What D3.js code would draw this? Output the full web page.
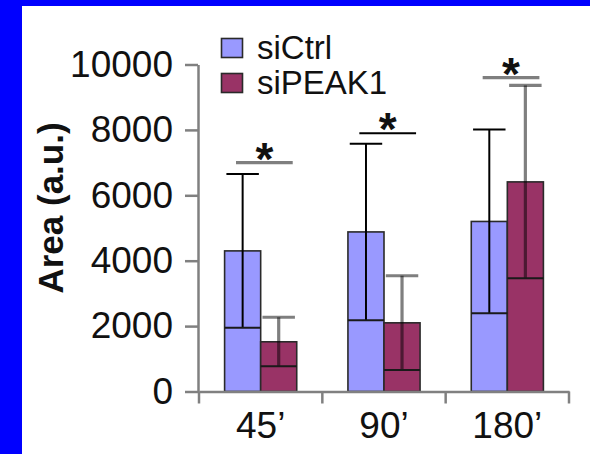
<!DOCTYPE html>
<html>
<head>
<meta charset="utf-8">
<script src="https://cdn.jsdelivr.net/npm/d3@7/dist/d3.min.js"></script>
<style>
  html, body { margin: 0; padding: 0; background: #0000ff; }
  svg { display: block; }
  text { font-family: "Liberation Sans", Arial, Helvetica, sans-serif; fill: #111; }
</style>
</head>
<body>
<svg id="chart" width="590" height="454"></svg>
<script>
// ---- data ----
const categories = ["45\u2019", "90\u2019", "180\u2019"];
const series = ["siCtrl", "siPEAK1"];
const siCtrlMean = [4300, 4880, 5200];
const siCtrlSD = [2350, 2700, 2810];
const siPEAK1Mean = [1520, 2100, 6410];
const siPEAK1SD = [750, 1440, 2950];
const sigLevel = [7000, 7900, 9600];
const yTicks = [0, 2000, 4000, 6000, 8000, 10000];
const yLabel = "Area (a.u.)";

// ---- layout ----
const svg = d3.select("#chart");
svg.append("rect").attr("x", 22).attr("y", 6).attr("width", 568).attr("height", 448).attr("fill", "#fff");

const colors = { siCtrl: "#9999ff", siPEAK1: "#993366" };
const axisColor = "#808080";

const y = d3.scaleLinear().domain([0, 10000]).range([391.5, 64.5]);
const x = d3.scaleBand().domain(categories).range([199, 569]).padding(0);
const bw = x.bandwidth();
const xi = d3.scaleBand().domain(series).range([0, bw]).paddingInner(0).paddingOuter(0.71);

const data = [];
categories.forEach((c, i) => {
  data.push({ cat: c, s: "siCtrl", mean: siCtrlMean[i], sd: siCtrlSD[i] });
  data.push({ cat: c, s: "siPEAK1", mean: siPEAK1Mean[i], sd: siPEAK1SD[i] });
});

// bars
svg.append("g").selectAll("rect").data(data).join("rect")
  .attr("x", d => x(d.cat) + xi(d.s))
  .attr("y", d => y(d.mean))
  .attr("width", xi.bandwidth())
  .attr("height", d => y(0) - y(d.mean))
  .attr("fill", d => colors[d.s])
  .attr("stroke", "#2a2a2a")
  .attr("stroke-width", 1.6);

// error bars
const capW = xi.bandwidth() * 0.9;
const eg = svg.append("g");
data.forEach(d => {
  const cx = x(d.cat) + xi(d.s) + xi.bandwidth() / 2;
  const hi = y(d.mean + d.sd), lo = y(d.mean - d.sd);
  const ctrl = d.s === "siCtrl";
  const st = ctrl ? { c: "#000", w: 2, o: 1 } : { c: "#000", w: 3.2, o: 0.5 };
  // vertical
  eg.append("line").attr("x1", cx).attr("x2", cx).attr("y1", hi).attr("y2", lo)
    .attr("stroke", st.c).attr("stroke-width", st.w).attr("stroke-opacity", st.o);
  // upper cap
  eg.append("line").attr("x1", cx - capW / 2).attr("x2", cx + capW / 2).attr("y1", hi).attr("y2", hi)
    .attr("stroke", st.c).attr("stroke-width", st.w).attr("stroke-opacity", st.o);
  // lower line across the bar
  eg.append("line").attr("x1", x(d.cat) + xi(d.s)).attr("x2", x(d.cat) + xi(d.s) + xi.bandwidth())
    .attr("y1", lo).attr("y2", lo)
    .attr("stroke", "#1a1a1a").attr("stroke-width", 2);
});

// significance lines and stars
const sigStyle = [{ c: "#000", w: 3.2, o: 0.5 }, { c: "#000", w: 2, o: 1 }, { c: "#000", w: 3.2, o: 0.5 }];
categories.forEach((c, i) => {
  const x1 = x(c) + bw * 0.30, x2 = x(c) + bw * 0.76;
  const ly = y(sigLevel[i]);
  svg.append("line").attr("x1", x1).attr("x2", x2).attr("y1", ly).attr("y2", ly)
    .attr("stroke", sigStyle[i].c).attr("stroke-width", sigStyle[i].w).attr("stroke-opacity", sigStyle[i].o);
  svg.append("text").attr("x", (x1 + x2) / 2).attr("y", ly - 14 + 0.57 * 46)
    .attr("text-anchor", "middle").attr("font-size", 46).attr("font-weight", "bold").text("*");
});

// y axis
const yAxis = svg.append("g").attr("transform", "translate(198,0)")
  .call(d3.axisLeft(y).tickValues(yTicks).tickSize(13).tickSizeOuter(0).tickPadding(12).tickFormat(d3.format("d")));
yAxis.select(".domain").attr("stroke", axisColor).attr("stroke-width", 2.5);
yAxis.selectAll(".tick line").attr("stroke", axisColor).attr("stroke-width", 2.5);
yAxis.selectAll(".tick text").attr("font-size", 37).attr("fill", "#111")
  .attr("font-family", "Liberation Sans, Arial, sans-serif");

// x axis
const xAxis = svg.append("g").attr("transform", "translate(0,391.5)")
  .call(d3.axisBottom(x).tickSize(0).tickSizeOuter(0).tickPadding(20));
xAxis.select(".domain").attr("stroke", axisColor).attr("stroke-width", 2.5);
xAxis.selectAll(".tick text").attr("font-size", 37).attr("fill", "#111")
  .attr("font-family", "Liberation Sans, Arial, sans-serif");
const bounds = categories.map(c => x(c)).concat([x(categories[categories.length - 1]) + bw]);
xAxis.selectAll(".bnd").data(bounds).join("line").attr("class", "bnd")
  .attr("x1", d => d).attr("x2", d => d).attr("y1", 0).attr("y2", 12)
  .attr("stroke", axisColor).attr("stroke-width", 2.5);

// y label
svg.append("text").attr("transform", "translate(63,208) rotate(-90)")
  .attr("text-anchor", "middle").attr("font-size", 35).attr("font-weight", "bold").text(yLabel);

// legend
const leg = svg.append("g");
series.forEach((s, i) => {
  leg.append("rect").attr("x", 221.5).attr("y", 38.5 + i * 35).attr("width", 21).attr("height", 19)
    .attr("fill", colors[s]).attr("stroke", "#2a2a2a").attr("stroke-width", 1.6);
  leg.append("text").attr("x", 257).attr("y", 59 + i * 35).attr("font-size", 33).text(s);
});
</script>
</body>
</html>
